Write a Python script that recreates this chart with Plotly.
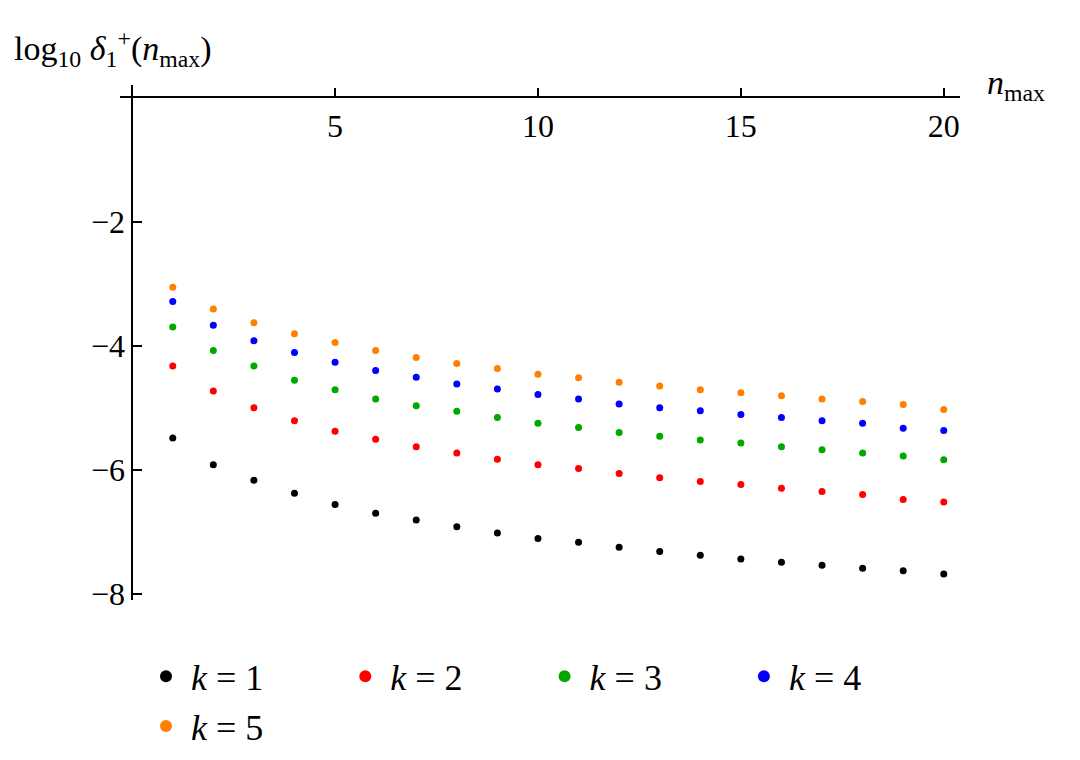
import plotly.graph_objects as g

n_max = list(range(1, 21))
k_labels = ['1', '2', '3', '4', '5']
colors = ['#000000', '#ff0000', '#00a800', '#0000ff', '#ff8000']

k1 = [-5.49, -5.92, -6.17, -6.38, -6.56, -6.70, -6.81, -6.92, -7.02, -7.11,
      -7.17, -7.25, -7.32, -7.38, -7.44, -7.49, -7.54, -7.59, -7.63, -7.68]
k2 = [-4.33, -4.73, -5.00, -5.21, -5.38, -5.51, -5.63, -5.73, -5.83, -5.92,
      -5.98, -6.06, -6.13, -6.19, -6.24, -6.30, -6.35, -6.40, -6.48, -6.52]
k3 = [-3.70, -4.08, -4.33, -4.56, -4.71, -4.86, -4.97, -5.06, -5.16, -5.25,
      -5.32, -5.40, -5.46, -5.52, -5.57, -5.63, -5.68, -5.73, -5.78, -5.84]
k4 = [-3.29, -3.67, -3.92, -4.11, -4.27, -4.40, -4.51, -4.62, -4.70, -4.79,
      -4.86, -4.94, -5.00, -5.05, -5.11, -5.16, -5.21, -5.25, -5.33, -5.37]
k5 = [-3.06, -3.41, -3.63, -3.81, -3.95, -4.08, -4.19, -4.29, -4.37, -4.46,
      -4.52, -4.59, -4.65, -4.71, -4.76, -4.81, -4.86, -4.90, -4.95, -5.03]
series = [k1, k2, k3, k4, k5]

x_range = [-0.3, 20.4]
y_range = [-8.1, 0.2]
serif = 'Liberation Serif'

fig = g.Figure()
for lab, col, ys in zip(k_labels, colors, series):
    fig.add_trace(g.Scatter(
        x=n_max, y=ys, mode='markers', name='<i>k</i> = ' + lab + '\u2003\u2003',
        marker=dict(color=col, size=7)
    ))

fig.update_layout(
    width=1080, height=760,
    plot_bgcolor='white', paper_bgcolor='white',
    margin=dict(l=112, r=128, t=77, b=160),
    font=dict(family=serif, size=32, color='black'),
    showlegend=True,
    legend=dict(orientation='h', x=0.5, xanchor='center', y=-0.09, yanchor='top',
                font=dict(size=36), itemsizing='constant', itemwidth=40),
    xaxis=dict(range=x_range, anchor='free',
               position=(0 - y_range[0]) / (y_range[1] - y_range[0]),
               side='bottom', showline=True, linecolor='black', linewidth=1.5,
               ticks='inside', ticklen=9, tickcolor='black', tickwidth=1.5,
               tickvals=[0, 5, 10, 15, 20], ticktext=['', '5', '10', '15', '20'],
               showgrid=False, zeroline=False),
    yaxis=dict(range=y_range, anchor='free',
               position=(0 - x_range[0]) / (x_range[1] - x_range[0]),
               side='left', showline=True, linecolor='black', linewidth=1.5,
               ticks='inside', ticklen=9, tickcolor='black', tickwidth=1.5,
               tickvals=[-8, -6, -4, -2], ticktext=['\u22128', '\u22126', '\u22124', '\u22122'],
               showgrid=False, zeroline=False),
    annotations=[
        dict(text='log<sub>10</sub> <i>δ</i><sub>1</sub><sup>+</sup>(<i>n</i><sub>max</sub>)',
             xref='paper', yref='paper', x=-0.128, y=1.07, xanchor='left', yanchor='middle',
             showarrow=False, font=dict(size=34)),
        dict(text='<i>n</i><sub>max</sub>', xref='paper', yref='paper', x=1.03, y=1.0,
             xanchor='left', yanchor='middle', showarrow=False, font=dict(size=34)),
    ],
)

fig.write_html("out.html")
